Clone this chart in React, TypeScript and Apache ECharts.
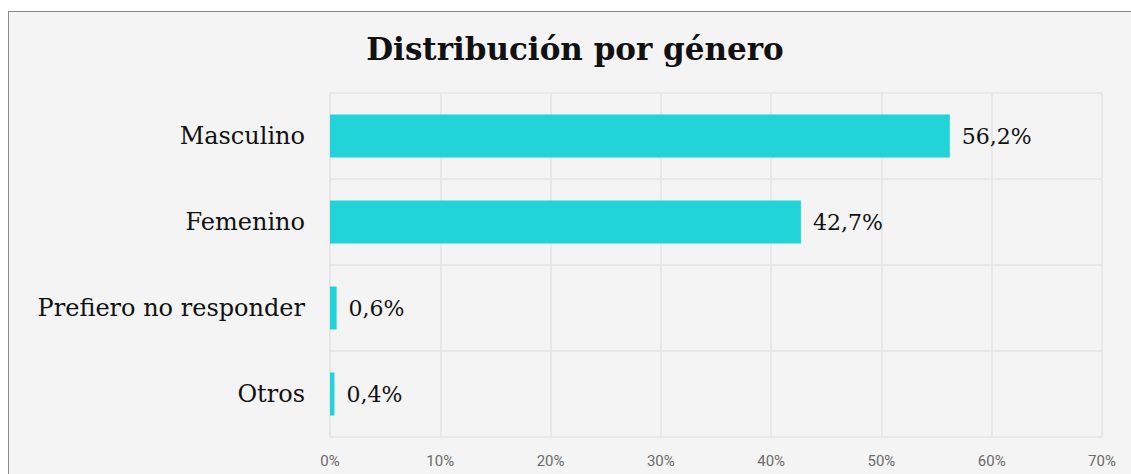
import React, { useEffect, useRef } from "react";
import * as echarts from "echarts";

const categories = ["Masculino", "Femenino", "Prefiero no responder", "Otros"];
const values = [56.2, 42.7, 0.6, 0.4];
const xTicks = [0, 10, 20, 30, 40, 50, 60, 70];
const titleText = "Distribución por género";

export default function App() {
  const ref = useRef<HTMLDivElement>(null);
  useEffect(() => {
    document.body.style.margin = "0";
    document.body.style.overflow = "hidden";
    const chart = echarts.init(ref.current!, null, { renderer: "svg" });
    chart.setOption({
      animation: false,
      backgroundColor: "#f4f4f4",
      title: {
        text: titleText,
        left: "center",
        top: 16,
        textStyle: {
          fontFamily: "DejaVu Serif",
          fontWeight: "bold",
          fontSize: 31,
          color: "#111",
        },
      },
      grid: { left: 321, right: 39, top: 81, bottom: 37, containLabel: false },
      xAxis: {
        type: "value",
        min: xTicks[0],
        max: xTicks[xTicks.length - 1],
        interval: 10,
        axisLine: { show: false },
        axisTick: { show: false },
        splitLine: { show: true, lineStyle: { color: "#e4e4e4", width: 1.5 } },
        axisLabel: {
          formatter: (v: number) => `${v}%`,
          color: "#6b6b6b",
          fontFamily: "Roboto",
          fontSize: 15,
          margin: 16,
        },
      },
      yAxis: {
        type: "category",
        inverse: true,
        data: categories,
        axisLine: { show: true, lineStyle: { color: "#e4e4e4", width: 1.5 } },
        axisTick: { show: false },
        splitLine: { show: true, lineStyle: { color: "#e4e4e4", width: 1.5 } },
        axisLabel: {
          color: "#111",
          fontFamily: "DejaVu Serif",
          fontSize: 24,
          margin: 25,
        },
      },
      series: [
        {
          type: "bar",
          data: values,
          barWidth: "50%",
          itemStyle: { color: "#21d4d9" },
          label: {
            show: true,
            position: "right",
            distance: 12,
            color: "#111",
            fontFamily: "DejaVu Serif",
            fontSize: 22,
            formatter: (p: any) => `${String(p.value).replace(".", ",")}%`,
          },
        },
      ],
    });
    return () => chart.dispose();
  }, []);
  return (
    <div
      style={{
        position: "fixed",
        left: 0,
        top: 0,
        width: 1131,
        height: 474,
        overflow: "hidden",
        background: "#fff",
      }}
    >
      <div
        style={{
          position: "absolute",
          left: 8,
          top: 11,
          borderLeft: "1px solid #8a8a8a",
          borderTop: "1px solid #8a8a8a",
        }}
      >
        <div ref={ref} style={{ width: 1132, height: 462 }} />
      </div>
    </div>
  );
}
